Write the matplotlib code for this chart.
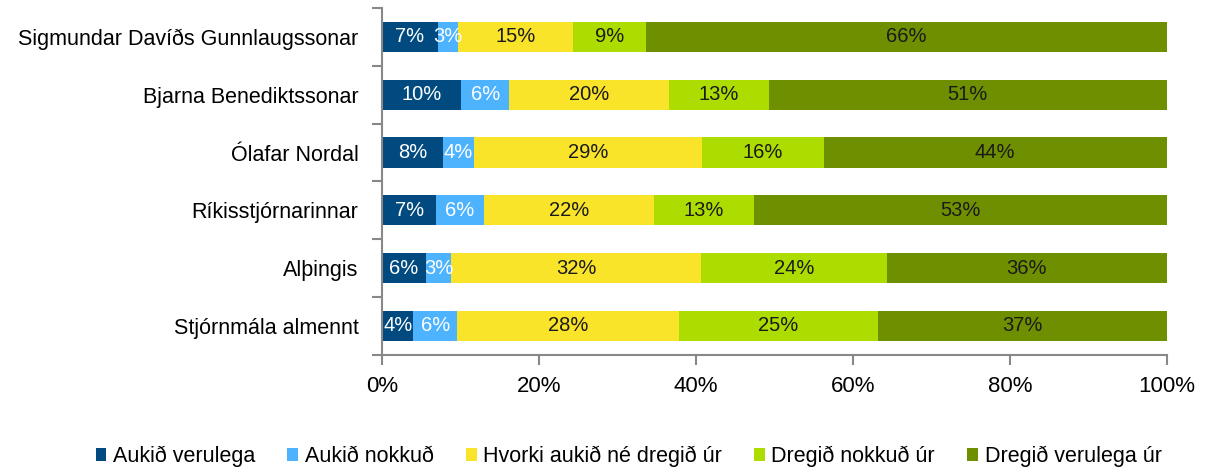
import numpy as np
import matplotlib.pyplot as plt
from matplotlib.ticker import PercentFormatter, FixedLocator

plt.rcParams['font.family'] = ['Liberation Sans', 'DejaVu Sans']

categories = ['Sigmundar Davíðs Gunnlaugssonar', 'Bjarna Benediktssonar', 'Ólafar Nordal',
              'Ríkisstjórnarinnar', 'Alþingis', 'Stjórnmála almennt']
series = ['Aukið verulega', 'Aukið nokkuð', 'Hvorki aukið né dregið úr',
          'Dregið nokkuð úr', 'Dregið verulega úr']
aukid_verulega = [7.1, 10.1, 7.8, 6.9, 5.6, 4.0]
aukid_nokkud = [2.6, 6.1, 3.9, 6.1, 3.2, 5.6]
hvorki = [14.6, 20.4, 29.1, 21.7, 31.9, 28.2]
dregid_nokkud = [9.4, 12.7, 15.5, 12.7, 23.6, 25.4]
dregid_verulega = [66.3, 50.7, 43.7, 52.6, 35.7, 36.8]

colors = ['#004a80', '#4db3ff', '#fae42a', '#addc00', '#6e9000']
text_colors = ['white', 'white', '#1a1a1a', '#1a1a1a', '#1a1a1a']

data = [aukid_verulega, aukid_nokkud, hvorki, dregid_nokkud, dregid_verulega]

fig = plt.figure(figsize=(12.09, 4.70), dpi=100)
ax = fig.add_axes([0.316, 0.245, 0.649, 0.738])

y = np.arange(len(categories))[::-1]
left = np.zeros(len(categories))
for vals, name, c, tc in zip(data, series, colors, text_colors):
    vals = np.array(vals)
    ax.barh(y, vals, left=left, height=0.52, color=c, label=name, edgecolor='none')
    for yi, l, v in zip(y, left, vals):
        ax.text(l + v / 2, yi, f'{round(v):.0f}%', ha='center', va='center',
                color=tc, fontsize=14.5)
    left += vals

ax.set_xlim(0, 100)
ax.set_ylim(-0.5, len(categories) - 0.5)
ax.xaxis.set_major_locator(FixedLocator([0, 20, 40, 60, 80, 100]))
ax.xaxis.set_major_formatter(PercentFormatter(decimals=0))
ax.set_yticks(y)
ax.set_yticklabels(categories)
ax.yaxis.set_minor_locator(FixedLocator(np.arange(-0.5, len(categories), 1)))
ax.tick_params(axis='y', which='major', length=0, labelsize=15.5, pad=17)
ax.tick_params(axis='y', which='minor', length=7, width=1.5, color='#888888')
ax.tick_params(axis='x', length=7, width=1.5, color='#888888', labelsize=16, pad=8)

for s in ['top', 'right']:
    ax.spines[s].set_visible(False)
for s in ['left', 'bottom']:
    ax.spines[s].set_color('#888888')
    ax.spines[s].set_linewidth(1.5)

fig.legend(loc='lower center', ncol=5, frameon=False, fontsize=15.5,
           handlelength=0.5, handleheight=0.5, handletextpad=0.3,
           columnspacing=1.5, bbox_to_anchor=(0.52, -0.035))

plt.savefig('out.png')
